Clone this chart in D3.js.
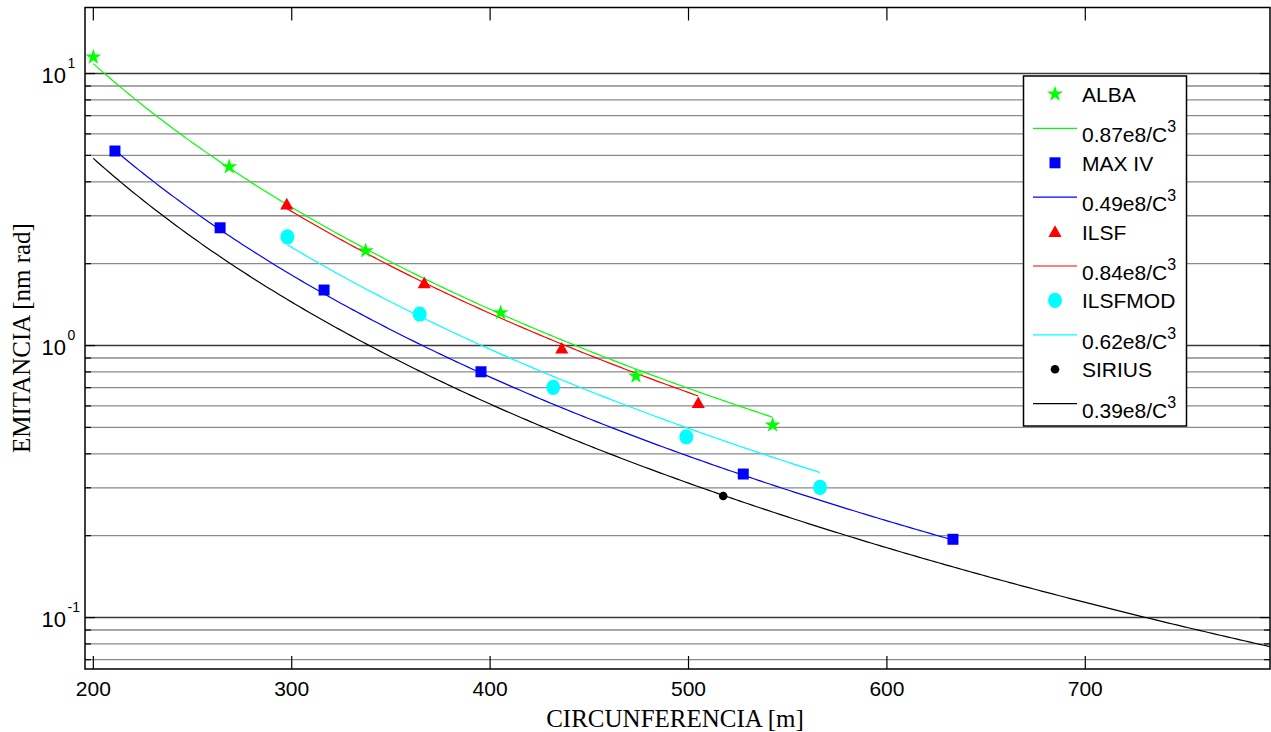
<!DOCTYPE html>
<html>
<head>
<meta charset="utf-8">
<script src="https://cdn.jsdelivr.net/npm/d3@7"></script>
<style>
  html, body { margin: 0; padding: 0; background: #fff; }
  svg { display: block; }
</style>
</head>
<body>
<svg id="chart" width="1271" height="732"></svg>
<script>
// Emittance vs circumference for several storage-ring lattices
const seriesNames = ["ALBA", "MAX IV", "ILSF", "ILSFMOD", "SIRIUS"];
const seriesColors = ["#00ff00", "#0000ff", "#ff0000", "#00ffff", "#000000"];
const seriesShapes = ["star", "square", "triangle", "circle", "dot"];

// measured points: circumference [m], emittance [nm rad]
const albaC    = [200, 268.5, 337.3, 405.3, 473.5, 542.4];
const albaE    = [11.5, 4.54, 2.23, 1.32, 0.772, 0.51];
const maxivC   = [210.9, 263.9, 316.3, 395.4, 527.6, 633.3];
const maxivE   = [5.19, 2.71, 1.60, 0.801, 0.337, 0.194];
const ilsfC    = [297.5, 366.8, 436.1, 504.9];
const ilsfE    = [3.31, 1.70, 0.977, 0.616];
const ilsfmodC = [297.8, 364.5, 431.8, 498.9, 566.3];
const ilsfmodE = [2.51, 1.306, 0.702, 0.462, 0.301];
const siriusC  = [517.5];
const siriusE  = [0.280];

// fitted scaling laws  E = k / C^3
const fitCoef  = [0.87e8, 0.49e8, 0.84e8, 0.62e8, 0.39e8];
const fitLabel = ["0.87e8/C", "0.49e8/C", "0.84e8/C", "0.62e8/C", "0.39e8/C"];
const fitStart = [200, 210.9, 297.5, 297.8, 200];
const fitEnd   = [542.4, 633.3, 504.9, 566.3, 800];

const xTicks = [200, 300, 400, 500, 600, 700];
const yDecades = [-1, 0, 1];

const pointsC = [albaC, maxivC, ilsfC, ilsfmodC, siriusC];
const pointsE = [albaE, maxivE, ilsfE, ilsfmodE, siriusE];

const svg = d3.select("#chart");
const X0 = 85, X1 = 1270, Y0 = 7.5, Y1 = 669;

const x = d3.scaleLinear().domain([195.8, 793.1]).range([X0, X1]);
const y = d3.scaleLog().domain([0.0647, 17.49]).range([Y1, Y0]);

svg.append("defs").append("clipPath").attr("id", "plotClip")
  .append("rect").attr("x", X0).attr("y", Y0).attr("width", X1 - X0).attr("height", Y1 - Y0);

// horizontal grid at every decade sub-division
const gridVals = [];
for (let k = -2; k <= 1; k++) {
  for (let m = 1; m <= 9; m++) {
    const v = m * Math.pow(10, k);
    if (v > y.domain()[0] && v < y.domain()[1]) gridVals.push({ v, major: m === 1 });
  }
}
svg.append("g").selectAll("line").data(gridVals).join("line")
  .attr("x1", X0).attr("x2", X1)
  .attr("y1", d => y(d.v)).attr("y2", d => y(d.v))
  .attr("stroke", d => d.major ? "#3a3a3a" : "#8a8a8a")
  .attr("stroke-width", d => d.major ? 1.4 : 1.3);

// fitted curves
const plot = svg.append("g").attr("clip-path", "url(#plotClip)");
const line = d3.line().x(d => x(d[0])).y(d => y(d[1]));
fitCoef.forEach((k, i) => {
  const pts = d3.range(fitStart[i], fitEnd[i], 2).concat([fitEnd[i]]).map(c => [c, k / (c * c * c)]);
  plot.append("path").datum(pts)
    .attr("d", line)
    .attr("fill", "none")
    .attr("stroke", seriesColors[i])
    .attr("stroke-width", 1.2);
});

// marker shapes
function markerPath(shape) {
  switch (shape) {
    case "star": return d3.symbol(d3.symbolStar, 78)();
    case "square": return d3.symbol(d3.symbolSquare, 121)();
    case "triangle": return "M0,-6.3L6.6,5.3L-6.6,5.3Z";
    default: return null;
  }
}
function drawMarker(g, shape, color, cx, cy) {
  if (shape === "circle") {
    g.append("ellipse").attr("cx", cx).attr("cy", cy).attr("rx", 7).attr("ry", 7.6).attr("fill", color);
  } else if (shape === "dot") {
    g.append("circle").attr("cx", cx).attr("cy", cy).attr("r", 4.3).attr("fill", color);
  } else {
    g.append("path").attr("d", markerPath(shape))
      .attr("transform", `translate(${cx},${cy})`).attr("fill", color);
  }
}
const markG = svg.append("g");
pointsC.forEach((cs, i) => {
  cs.forEach((c, j) => drawMarker(markG, seriesShapes[i], seriesColors[i], x(c), y(pointsE[i][j])));
});

// axes box
svg.append("rect").attr("x", X0).attr("y", Y0).attr("width", X1 - X0).attr("height", Y1 - Y0)
  .attr("fill", "none").attr("stroke", "#000").attr("stroke-width", 1.5);

// x ticks (bottom and top)
const tickG = svg.append("g").attr("stroke", "#000").attr("stroke-width", 1.2);
xTicks.forEach(t => {
  tickG.append("line").attr("x1", x(t)).attr("x2", x(t)).attr("y1", Y1).attr("y2", Y1 - 13);
  tickG.append("line").attr("x1", x(t)).attr("x2", x(t)).attr("y1", Y0).attr("y2", Y0 + 13);
});
// y ticks (left and right)
gridVals.forEach(d => {
  const len = d.major ? 10 : 6;
  tickG.append("line").attr("x1", X0).attr("x2", X0 + len).attr("y1", y(d.v)).attr("y2", y(d.v));
  tickG.append("line").attr("x1", X1).attr("x2", X1 - len).attr("y1", y(d.v)).attr("y2", y(d.v));
});

const sans = "'Liberation Sans', Arial, sans-serif";
const serif = "'Liberation Serif', 'Times New Roman', serif";

svg.append("g").selectAll("text").data(xTicks).join("text")
  .attr("x", d => x(d)).attr("y", 696)
  .attr("text-anchor", "middle")
  .attr("font-family", sans).attr("font-size", 21)
  .text(d => d);

yDecades.forEach(k => {
  const yy = y(Math.pow(10, k));
  svg.append("text").attr("x", 66).attr("y", yy + 9.5)
    .attr("text-anchor", "end").attr("font-family", sans).attr("font-size", 22).text("10");
  svg.append("text").attr("x", 67.5).attr("y", yy - 6)
    .attr("font-family", sans).attr("font-size", 14).text(String(k));
});

svg.append("text").attr("x", 675).attr("y", 727)
  .attr("text-anchor", "middle").attr("font-family", serif).attr("font-size", 25)
  .text("CIRCUNFERENCIA [m]");
svg.append("text")
  .attr("transform", "translate(30,338) rotate(-90)")
  .attr("text-anchor", "middle").attr("font-family", serif).attr("font-size", 25)
  .text("EMITANCIA [nm rad]");

// legend
const LX = 1023.5, LY = 76, LW = 163, LH = 350;
const leg = svg.append("g");
leg.append("rect").attr("x", LX).attr("y", LY).attr("width", LW).attr("height", LH)
  .attr("fill", "#fff").attr("stroke", "#000").attr("stroke-width", 1.5);
const rowStep = 34.4, row0 = 94;
seriesNames.forEach((name, i) => {
  const ry = row0 + rowStep * 2 * i;
  drawMarker(leg, seriesShapes[i], seriesColors[i], 1055, ry);
  leg.append("text").attr("x", 1082).attr("y", ry + 8)
    .attr("font-family", sans).attr("font-size", 21).text(name);
  const ly = ry + rowStep;
  leg.append("line").attr("x1", 1033).attr("x2", 1077).attr("y1", ly).attr("y2", ly)
    .attr("stroke", seriesColors[i]).attr("stroke-width", 1.2);
  const t = leg.append("text").attr("x", 1082).attr("y", ly + 14)
    .attr("font-family", sans).attr("font-size", 21);
  t.append("tspan").text(fitLabel[i]);
  t.append("tspan").attr("dy", -10).attr("font-size", 16).text("3");
});
</script>
</body>
</html>
